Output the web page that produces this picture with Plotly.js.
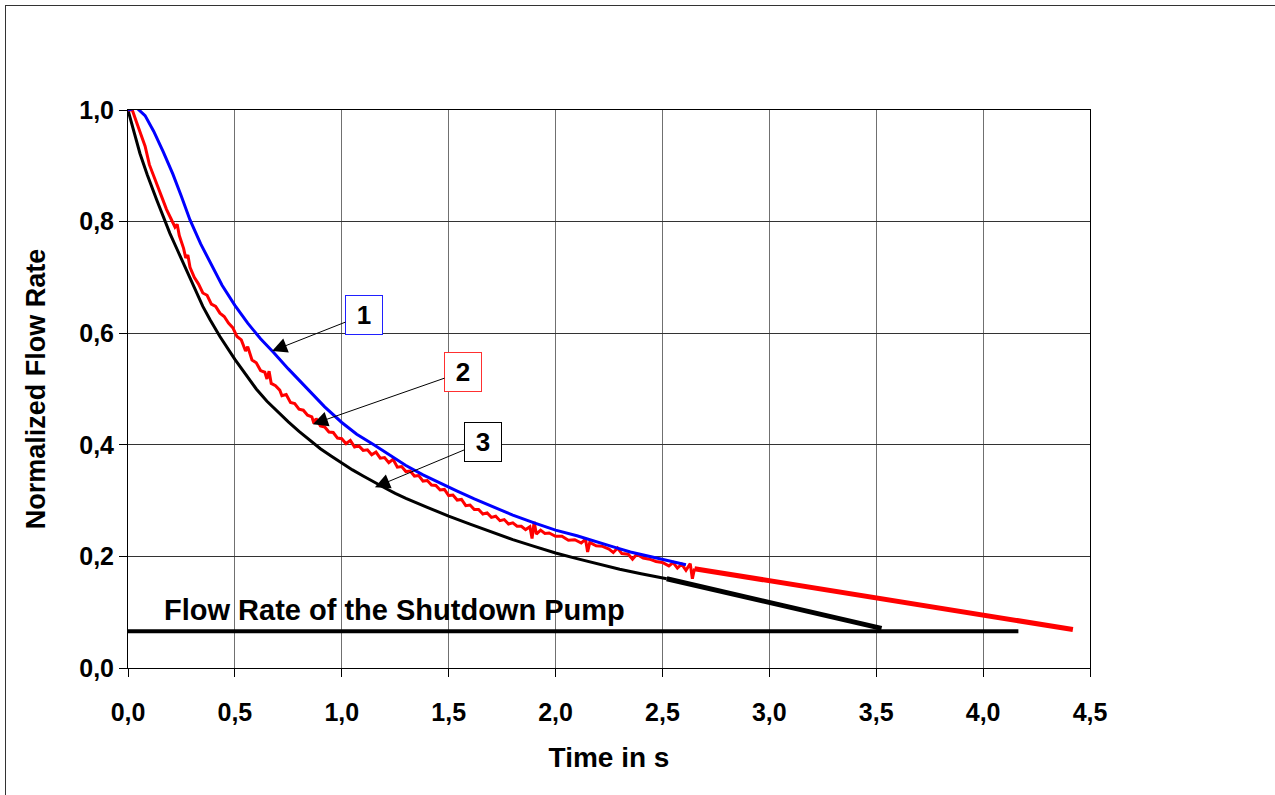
<!DOCTYPE html>
<html>
<head>
<meta charset="utf-8">
<script src="https://cdn.plot.ly/plotly-3.0.1.min.js"></script>
<style>
  html, body { margin: 0; padding: 0; background: #fff; overflow: hidden; }
  #chart { position: absolute; left: 0; top: 0; width: 1275px; height: 795px; }
  #frame { position: absolute; left: 5px; top: 5px; width: 1400px; height: 900px;
           border-left: 1px solid #333; border-top: 1px solid #333; pointer-events: none; }
</style>
</head>
<body>
<div id="chart"></div>
<div id="frame"></div>
<script>
// Curve 1 (blue)
const blueT = [0.00, 0.04, 0.08, 0.12, 0.165, 0.21, 0.25, 0.29, 0.34, 0.39, 0.44, 0.50, 0.56, 0.62, 0.68, 0.75, 0.84, 0.92, 1.00, 1.07, 1.15, 1.22, 1.30, 1.38, 1.46, 1.54, 1.62, 1.70, 1.80, 1.90, 2.00, 2.10, 2.19, 2.27, 2.35, 2.43, 2.50, 2.56, 2.61];
const blueQ = [1.000, 1.004, 0.990, 0.962, 0.925, 0.885, 0.845, 0.803, 0.760, 0.722, 0.686, 0.650, 0.618, 0.590, 0.566, 0.536, 0.499, 0.468, 0.440, 0.419, 0.400, 0.382, 0.363, 0.346, 0.331, 0.317, 0.303, 0.290, 0.274, 0.260, 0.247, 0.237, 0.226, 0.217, 0.208, 0.201, 0.194, 0.189, 0.185];

// Curve 2 (red, measured, noisy)
const redT = [0.00, 0.02, 0.04, 0.06, 0.08, 0.10, 0.12, 0.14, 0.16, 0.18, 0.20, 0.22, 0.23, 0.24, 0.26, 0.27, 0.28, 0.29, 0.31, 0.33, 0.35, 0.37, 0.39, 0.41, 0.43, 0.45, 0.47, 0.49, 0.51, 0.53, 0.55, 0.56, 0.58, 0.60, 0.62, 0.64, 0.65, 0.66, 0.67, 0.69, 0.71, 0.72, 0.74, 0.76, 0.78, 0.80, 0.82, 0.84, 0.86, 0.87, 0.88, 0.90, 0.92, 0.94, 0.96, 0.98, 1.00, 1.02, 1.04, 1.06, 1.08, 1.10, 1.12, 1.14, 1.16, 1.18, 1.20, 1.22, 1.24, 1.26, 1.28, 1.30, 1.32, 1.34, 1.36, 1.38, 1.40, 1.42, 1.44, 1.46, 1.48, 1.50, 1.52, 1.54, 1.56, 1.58, 1.60, 1.62, 1.64, 1.66, 1.68, 1.70, 1.72, 1.74, 1.76, 1.78, 1.80, 1.82, 1.84, 1.86, 1.88, 1.89, 1.90, 1.91, 1.93, 1.95, 1.97, 2.00, 2.03, 2.06, 2.09, 2.12, 2.14, 2.15, 2.16, 2.19, 2.22, 2.25, 2.27, 2.29, 2.31, 2.34, 2.36, 2.38, 2.41, 2.44, 2.47, 2.50, 2.53, 2.55, 2.57, 2.59, 2.61, 2.63, 2.64, 2.65];
const redQ = [1.000, 1.000, 0.978, 0.957, 0.935, 0.902, 0.880, 0.862, 0.842, 0.822, 0.806, 0.790, 0.795, 0.775, 0.752, 0.735, 0.740, 0.718, 0.700, 0.688, 0.672, 0.668, 0.652, 0.648, 0.636, 0.630, 0.618, 0.610, 0.594, 0.588, 0.568, 0.576, 0.552, 0.547, 0.533, 0.530, 0.518, 0.532, 0.510, 0.506, 0.498, 0.488, 0.490, 0.476, 0.474, 0.464, 0.462, 0.453, 0.450, 0.438, 0.447, 0.434, 0.432, 0.423, 0.422, 0.412, 0.411, 0.402, 0.408, 0.396, 0.398, 0.390, 0.391, 0.382, 0.387, 0.376, 0.377, 0.368, 0.374, 0.360, 0.361, 0.352, 0.353, 0.344, 0.345, 0.335, 0.336, 0.328, 0.327, 0.319, 0.320, 0.309, 0.310, 0.301, 0.302, 0.291, 0.292, 0.284, 0.284, 0.276, 0.278, 0.270, 0.272, 0.264, 0.266, 0.258, 0.260, 0.254, 0.254, 0.248, 0.253, 0.232, 0.262, 0.240, 0.247, 0.241, 0.242, 0.236, 0.236, 0.229, 0.230, 0.224, 0.231, 0.208, 0.225, 0.219, 0.218, 0.213, 0.207, 0.215, 0.205, 0.204, 0.195, 0.204, 0.197, 0.195, 0.191, 0.189, 0.183, 0.189, 0.179, 0.186, 0.175, 0.187, 0.160, 0.178];
// Curve 2 extrapolation
const redExtT = [2.65, 4.42];
const redExtQ = [0.178, 0.069];

// Curve 3 (black)
const blackT = [0.000, 0.01, 0.03, 0.056, 0.09, 0.134, 0.16, 0.196, 0.23, 0.259, 0.29, 0.321, 0.35, 0.384, 0.43, 0.50, 0.55, 0.60, 0.65, 0.70, 0.75, 0.80, 0.85, 0.90, 0.95, 1.00, 1.05, 1.10, 1.15, 1.20, 1.25, 1.30, 1.40, 1.50, 1.60, 1.70, 1.80, 1.90, 2.00, 2.10, 2.20, 2.30, 2.40, 2.52];
const blackQ = [1.000, 0.985, 0.958, 0.922, 0.884, 0.839, 0.813, 0.779, 0.750, 0.725, 0.698, 0.672, 0.648, 0.624, 0.594, 0.553, 0.526, 0.500, 0.478, 0.459, 0.441, 0.424, 0.408, 0.393, 0.380, 0.367, 0.355, 0.344, 0.333, 0.323, 0.313, 0.304, 0.288, 0.272, 0.258, 0.244, 0.230, 0.218, 0.206, 0.196, 0.186, 0.177, 0.169, 0.160];
// Curve 3 extrapolation
const blackExtT = [2.52, 3.525];
const blackExtQ = [0.160, 0.071];

// Shutdown pump flow rate
const pumpT = [0.0, 4.165];
const pumpQ = [0.066, 0.066];

const xTicks = [0, 0.5, 1.0, 1.5, 2.0, 2.5, 3.0, 3.5, 4.0, 4.5];
const yTicks = [0, 0.2, 0.4, 0.6, 0.8, 1.0];

const FONT = 'Liberation Sans, Arial, sans-serif';

const traces = [
  {x: pumpT, y: pumpQ, mode: 'lines', line: {color: '#000', width: 4}},
  {x: blackExtT, y: blackExtQ, mode: 'lines', line: {color: '#000', width: 5}},
  {x: redExtT, y: redExtQ, mode: 'lines', line: {color: '#ff0000', width: 5}},
  {x: blackT, y: blackQ, mode: 'lines', line: {color: '#000', width: 3}},
  {x: redT, y: redQ, mode: 'lines', line: {color: '#ff0000', width: 3}},
  {x: blueT, y: blueQ, mode: 'lines', line: {color: '#0000ff', width: 3}}
];
traces.forEach(t => { t.cliponaxis = false; t.showlegend = false; });

const boxFont = {family: FONT, size: 26, color: '#000', weight: 'bold'};
const arrowStyle = {showarrow: true, arrowhead: 2, arrowsize: 3, arrowwidth: 1, arrowcolor: '#000'};
const layout = {
  width: 1275, height: 795,
  margin: {l: 128, r: 185, t: 110, b: 127},
  paper_bgcolor: '#fff', plot_bgcolor: '#fff',
  separators: ',.',
  showlegend: false,
  xaxis: {
    range: [0, 4.5], tickvals: xTicks, tickformat: '.1f',
    ticks: 'outside', ticklen: 8, tickcolor: '#000', ticklabelstandoff: 14,
    showline: true, linecolor: '#000', linewidth: 1, mirror: true,
    showgrid: true, gridcolor: '#707070', gridwidth: 1, zeroline: false,
    tickfont: {family: FONT, size: 25, color: '#000', weight: 'bold'},
    title: {text: 'Time in s', font: {family: FONT, size: 28, color: '#000', weight: 'bold'}, standoff: 22}
  },
  yaxis: {
    range: [0, 1.0], tickvals: yTicks, tickformat: '.1f',
    ticks: 'outside', ticklen: 8, tickcolor: '#000',
    showline: true, linecolor: '#000', linewidth: 1, mirror: true,
    showgrid: true, gridcolor: '#333', gridwidth: 1, zeroline: false,
    tickfont: {family: FONT, size: 25, color: '#000', weight: 'bold'},
    title: {text: 'Normalized Flow Rate', font: {family: FONT, size: 27, color: '#000', weight: 'bold'}, standoff: 25}
  },
  annotations: [
    Object.assign({x: 0.674, y: 0.568, ax: 1.104, ay: 0.633, axref: 'x', ayref: 'y', xref: 'x', yref: 'y',
     text: '1', font: boxFont, bgcolor: '#fff', bordercolor: '#2020ff', borderwidth: 1, borderpad: 1, width: 34, height: 36}, arrowStyle),
    Object.assign({x: 0.865, y: 0.437, ax: 1.567, ay: 0.531, axref: 'x', ayref: 'y', xref: 'x', yref: 'y',
     text: '2', font: boxFont, bgcolor: '#fff', bordercolor: '#ff3030', borderwidth: 1, borderpad: 1, width: 34, height: 36}, arrowStyle),
    Object.assign({x: 1.155, y: 0.324, ax: 1.661, ay: 0.405, axref: 'x', ayref: 'y', xref: 'x', yref: 'y',
     text: '3', font: boxFont, bgcolor: '#fff', bordercolor: '#000', borderwidth: 1, borderpad: 1, width: 34, height: 36}, arrowStyle),
    {x: 1.246, y: 0.104, xref: 'x', yref: 'y', showarrow: false,
     text: 'Flow Rate of the Shutdown Pump', font: {family: FONT, size: 29, color: '#000', weight: 'bold'}}
  ]
};

Plotly.newPlot('chart', traces, layout, {displayModeBar: false, staticPlot: true});
</script>
</body>
</html>
